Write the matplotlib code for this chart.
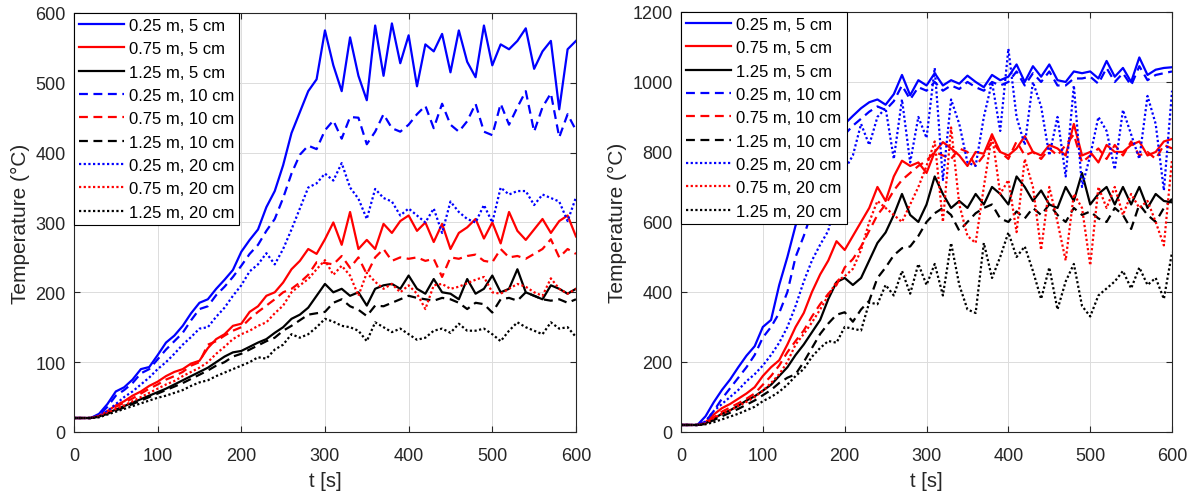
import matplotlib
matplotlib.use("Agg")
import matplotlib.pyplot as plt

plt.rcParams['font.family'] = ['Liberation Sans', 'DejaVu Sans']

t = list(range(0, 610, 10))

labels = ["0.25 m, 5 cm", "0.75 m, 5 cm", "1.25 m, 5 cm",
          "0.25 m, 10 cm", "0.75 m, 10 cm", "1.25 m, 10 cm",
          "0.25 m, 20 cm", "0.75 m, 20 cm", "1.25 m, 20 cm"]

# left panel
L_b5 = [20, 20, 20, 26, 40, 58, 64, 75, 90, 93,
        110, 128, 138, 152, 170, 185, 190, 205, 218, 232,
        258, 275, 290, 322, 345, 382, 428, 458, 488, 505,
        575, 525, 488, 565, 510, 475, 582, 510, 585, 528,
        568, 495, 555, 545, 570, 515, 575, 530, 508, 582,
        525, 555, 548, 560, 578, 520, 545, 560, 462, 548,
        560]
L_r5 = [20, 20, 20, 23, 30, 38, 44, 52, 58, 66,
        72, 80, 86, 90, 98, 102, 120, 133, 140, 152,
        155, 172, 180, 195, 200, 214, 233, 245, 262, 255,
        276, 300, 268, 315, 262, 275, 262, 298, 285, 302,
        310, 288, 300, 272, 298, 262, 285, 293, 305, 277,
        300, 270, 315, 288, 275, 290, 305, 285, 302, 310,
        280]
L_k5 = [20, 20, 20, 22, 27, 32, 37, 42, 47, 52,
        57, 62, 68, 74, 80, 86, 92, 100, 108, 114,
        116, 122, 128, 133, 142, 150, 162, 168, 178, 195,
        212, 200, 205, 195, 200, 181, 205, 210, 212, 205,
        224, 205, 198, 219, 200, 198, 190, 219, 198, 205,
        224, 200, 205, 233, 200, 195, 190, 210, 205, 198,
        205]
L_b10 = [20, 20, 20, 24, 36, 52, 60, 70, 84, 90,
         104, 118, 130, 142, 160, 176, 180, 196, 208, 222,
         238, 255, 268, 288, 305, 335, 370, 397, 410, 405,
         432, 446, 420, 451, 450, 412, 430, 455, 435, 430,
         440, 455, 467, 435, 470, 440, 430, 445, 470, 430,
         425, 470, 440, 465, 488, 430, 465, 485, 422, 455,
         432]
L_r10 = [20, 20, 20, 23, 29, 36, 42, 48, 55, 62,
         68, 75, 80, 86, 95, 100, 125, 130, 138, 145,
         150, 162, 172, 181, 190, 200, 205, 214, 225, 243,
         242, 240, 252, 235, 250, 226, 250, 262, 245, 250,
         248, 250, 245, 248, 222, 250, 248, 252, 254, 245,
         243, 262, 250, 252, 248, 255, 262, 276, 250, 262,
         255]
L_k10 = [20, 20, 20, 22, 26, 31, 35, 40, 45, 50,
         55, 60, 65, 70, 76, 82, 88, 95, 100, 108,
         112, 118, 124, 130, 135, 145, 152, 160, 168, 170,
         172, 185, 190, 180, 175, 166, 181, 180, 185, 190,
         195, 192, 190, 188, 192, 190, 185, 176, 185, 183,
         171, 190, 192, 188, 200, 195, 190, 188, 190, 185,
         190]
L_b20 = [20, 20, 20, 22, 30, 40, 50, 58, 68, 78,
         90, 100, 112, 125, 136, 148, 150, 165, 178, 195,
         210, 230, 240, 256, 240, 262, 290, 320, 350, 356,
         370, 360, 385, 350, 334, 305, 348, 335, 330, 310,
         320, 310, 300, 320, 285, 330, 315, 305, 300, 325,
         300, 350, 340, 345, 345, 325, 340, 335, 330, 302,
         336]
L_r20 = [20, 20, 20, 22, 27, 33, 38, 44, 50, 56,
         62, 68, 73, 80, 86, 92, 100, 112, 122, 133,
         140, 145, 152, 157, 170, 181, 200, 210, 219, 233,
         246, 225, 238, 224, 195, 228, 215, 205, 212, 200,
         210, 198, 176, 210, 212, 205, 208, 213, 218, 222,
         200, 198, 205, 212, 208, 200, 195, 220, 205, 198,
         205]
L_k20 = [20, 20, 20, 21, 25, 29, 33, 37, 41, 45,
         49, 52, 56, 60, 66, 71, 74, 80, 85, 90,
         95, 100, 107, 105, 118, 125, 140, 135, 140, 150,
         162, 158, 152, 150, 145, 130, 157, 150, 143, 148,
         140, 132, 135, 145, 148, 142, 155, 145, 145, 148,
         140, 130, 145, 157, 150, 145, 140, 157, 148, 150,
         136]

# right panel
R_b5 = [20, 20, 20, 45, 85, 120, 150, 185, 218, 245,
        300, 320, 420, 500, 590, 640, 700, 760, 800, 845,
        880, 903, 925, 942, 950, 935, 965, 1020, 962, 1005,
        990, 1025, 990, 1005, 995, 1018, 1000, 985, 1020, 1005,
        1015, 1050, 1000, 1045, 1015, 1050, 1005, 1000, 1030, 1025,
        1030, 1010, 1060, 1015, 1040, 1000, 1070, 1020, 1035, 1040,
        1042]
R_r5 = [20, 20, 20, 28, 50, 68, 80, 95, 110, 128,
        160, 185, 205, 250, 300, 340, 400, 450, 490, 545,
        520, 560, 600, 640, 700, 660, 730, 775, 760, 770,
        740, 800, 828, 810, 790, 760, 800, 795, 850, 800,
        790, 810, 845, 800, 790, 820, 810, 790, 880, 790,
        800, 770, 820, 800, 800, 820, 830, 790, 800, 830,
        837]
R_k5 = [20, 20, 20, 24, 38, 52, 62, 75, 90, 102,
        118, 135, 160, 185, 220, 250, 285, 320, 380, 428,
        440, 420, 440, 490, 540, 570, 620, 680, 620, 600,
        650, 730, 680, 640, 660, 640, 680, 650, 700, 680,
        650, 730, 700, 660, 690, 650, 640, 700, 660, 740,
        650, 680, 700, 650, 700, 650, 700, 640, 680, 660,
        656]
R_b10 = [20, 20, 20, 30, 60, 95, 125, 155, 185, 220,
         270, 300, 340, 400, 500, 560, 630, 690, 750, 810,
         850, 875, 895, 915, 930, 920, 945, 990, 950, 985,
         975, 1000, 975, 990, 980, 1000, 985, 975, 1000, 990,
         1000, 1030, 990, 1025, 1000, 1030, 990, 990, 1010, 1010,
         1015, 995, 1040, 1000, 1025, 990, 1045, 1005, 1020, 1025,
         1030]
R_r10 = [20, 20, 20, 25, 42, 58, 70, 82, 95, 110,
         135, 160, 190, 228, 260, 290, 330, 365, 395, 420,
         470, 494, 530, 575, 620, 650, 690, 720, 740, 760,
         775, 800, 790, 780, 810, 800, 760, 790, 830, 800,
         780, 830, 790, 800, 780, 810, 790, 820, 850, 770,
         790, 810, 780, 820, 790, 830, 790, 800, 780, 820,
         810]
R_k10 = [20, 20, 20, 23, 34, 45, 55, 66, 78, 90,
         105, 120, 140, 155, 165, 200, 240, 280, 310, 335,
         342, 315, 350, 375, 440, 470, 505, 525, 530, 560,
         600, 625, 640, 620, 575, 600, 625, 640, 650, 610,
         600, 630, 610, 640, 620, 650, 620, 600, 640, 620,
         630, 610, 600, 640, 620, 580, 650, 620, 600, 640,
         666]
R_b20 = [20, 20, 20, 30, 60, 80, 100, 120, 145, 165,
         190, 220, 255, 300, 360, 430, 490, 535, 575, 680,
         750, 790, 880, 820, 900, 925, 780, 950, 770, 900,
         840, 1040, 720, 950, 880, 770, 760, 900, 1000, 860,
         1095, 900, 820, 1000, 930, 790, 900, 730, 990, 700,
         790, 900, 860, 750, 920, 850, 780, 960, 880, 690,
         975]
R_r20 = [20, 20, 20, 24, 40, 52, 62, 74, 86, 100,
         118, 140, 165, 200, 250, 280, 313, 350, 390, 430,
         445, 466, 520, 600, 660, 640, 620, 600, 650, 700,
         760, 830, 600, 870, 650, 560, 540, 700, 850, 680,
         720, 571, 780, 700, 520, 700, 600, 490, 680, 640,
         476, 700, 640, 700, 620, 680, 640, 660, 600, 533,
         780]
R_k20 = [20, 20, 20, 22, 28, 36, 44, 52, 62, 72,
         88, 100, 115, 135, 160, 180, 215, 240, 260, 255,
         300, 295, 290, 370, 365, 420, 390, 460, 395, 480,
         420, 480, 390, 540, 420, 350, 340, 540, 440, 500,
         570, 500, 530, 460, 380, 470, 350, 430, 480, 360,
         330, 390, 410, 430, 460, 410, 470, 420, 440, 380,
         514]

colors = ['#0000ff', '#ff0000', 'black'] * 3
styles = ['-'] * 3 + [(0, (4, 2.5))] * 3 + [(0, (1, 1.1))] * 3
gray = '#262626'


def panel(ax, series, ymax, yticks):
    for y, c, ls, lab in zip(series, colors, styles, labels):
        ax.plot(t, y, color=c, linestyle=ls, linewidth=1.6, label=lab)
    ax.set_xlim(0, 600)
    ax.set_ylim(0, ymax)
    ax.set_xticks([0, 100, 200, 300, 400, 500, 600])
    ax.set_yticks(yticks)
    ax.grid(True, color='#dcdcdc', linewidth=0.7)
    ax.tick_params(direction='in', top=True, right=True, length=4,
                   labelsize=13, colors=gray, labelcolor=gray)
    ax.tick_params(axis='x', pad=11)
    ax.tick_params(axis='y', pad=6)
    for s in ax.spines.values():
        s.set_color(gray)
        s.set_linewidth(0.8)
    ax.set_xlabel('t [s]', fontsize=14.5, color=gray, labelpad=5)
    ax.set_ylabel('Temperature (°C)', fontsize=15, color=gray, labelpad=4)
    leg = ax.legend(loc='upper left', fontsize=12, fancybox=False,
                    framealpha=1, edgecolor='black', borderaxespad=0,
                    handlelength=2.7, handletextpad=0.3, labelspacing=0.5,
                    borderpad=0.3)
    leg.get_frame().set_linewidth(0.8)


fig = plt.figure(figsize=(11.91, 5.02), dpi=100)
ax1 = fig.add_axes([0.0621, 0.1375, 0.4215, 0.8347])
ax2 = fig.add_axes([0.5718, 0.1375, 0.4123, 0.8367])

panel(ax1, [L_b5, L_r5, L_k5, L_b10, L_r10, L_k10, L_b20, L_r20, L_k20],
      600, [0, 100, 200, 300, 400, 500, 600])
panel(ax2, [R_b5, R_r5, R_k5, R_b10, R_r10, R_k10, R_b20, R_r20, R_k20],
      1200, [0, 200, 400, 600, 800, 1000, 1200])

fig.savefig('out.png', dpi=100)
